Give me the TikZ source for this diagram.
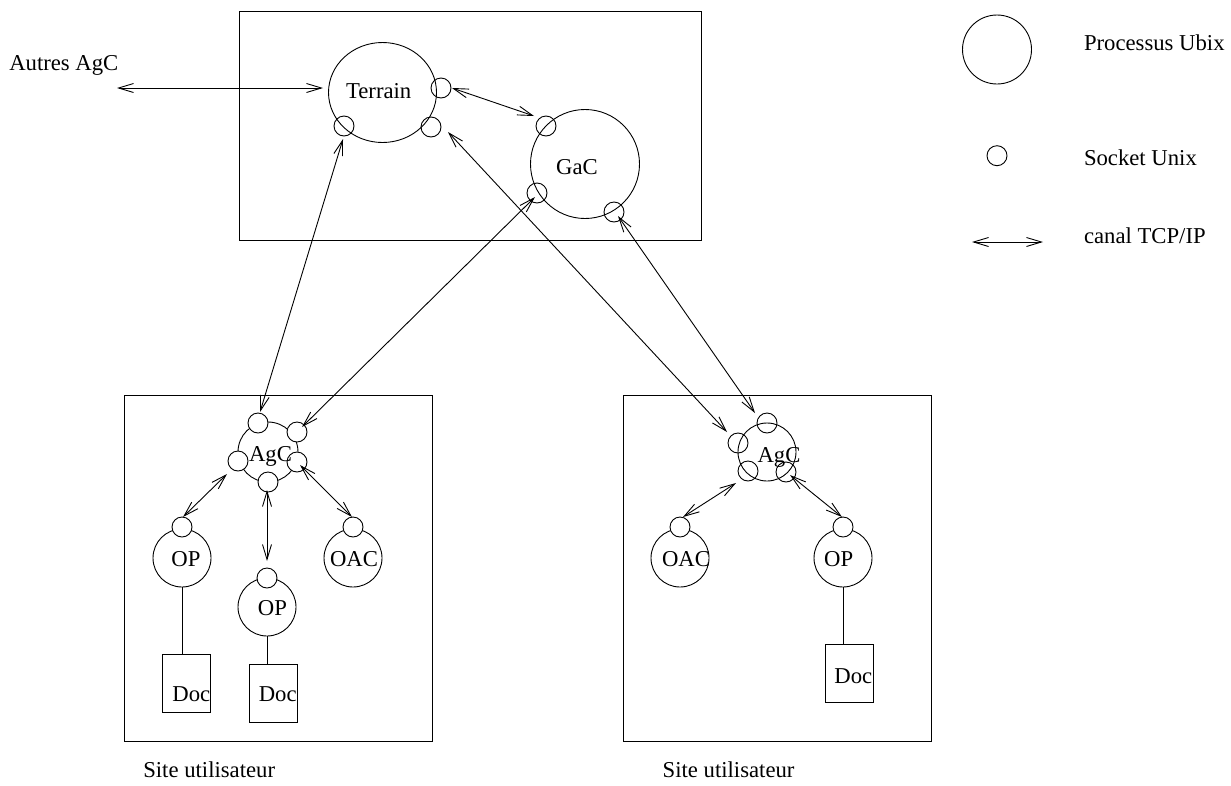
\documentclass[tikz,border=0pt]{standalone}
\usepackage{fontspec}
\setmainfont{Liberation Serif}
\usetikzlibrary{arrows.meta,shapes.geometric}
\begin{document}
\begin{tikzpicture}[x=1pt,y=-1pt,line width=0.9pt,
  every node/.style={inner sep=0pt,outer sep=0pt},
  lbl/.style={font=\fontsize{22.7}{27}\selectfont,anchor=base},
  lblw/.style={font=\fontsize{22.7}{27}\selectfont,anchor=base west},
  proc/.style={draw,circle,minimum size=58pt},
  sock/.style={draw,circle,minimum size=20pt},
  sockw/.style={draw,circle,minimum size=20pt,fill=white},
  docbox/.style={draw,rectangle,minimum width=48pt,minimum height=58pt},
  sitebox/.style={draw,rectangle,anchor=north west},
  tcp/.style={{Straight Barb[length=15pt,width=9pt]}-{Straight Barb[length=15pt,width=9pt]}}]
\useasboundingbox (0,0) rectangle (1231,785);

% ---- top box
\node[sitebox,minimum width=462pt,minimum height=229pt] (top) at (239,11) {};
\node[draw,ellipse,minimum width=108pt,minimum height=100pt] (terrain) at (382.5,92.5) {};
\node[lbl] (terrainT) at (378.7,98.3) {Terrain};
\node[draw,circle,minimum size=109pt] (gac) at (585,164) {};
\node[lbl] (gacT) at (577,174) {GaC};
\node[sock] (tsR) at (441,88) {};
\node[sock] (tsLL) at (344,126) {};
\node[sock] (tsLR) at (431,127) {};
\node[sock] (gsUL) at (546,126) {};
\node[sock] (gsLL) at (537,193) {};
\node[sock] (gsLR) at (614,212) {};

\node[lblw] (autres) at (9.3,70) {Autres AgC};

% ---- left site
\node[sitebox,minimum width=308pt,minimum height=346pt] (siteL) at (124,395) {};
\node[proc,minimum size=60pt] (agcL) at (268,452) {};
\node[sockw] (aLt) at (258,423) {};
\node[sockw] (aLur) at (297,432) {};
\node[sockw] (aLl) at (238,461) {};
\node[sockw] (aLr) at (297,462) {};
\node[sockw] (aLb) at (268,482) {};
\node[lbl] (agcLT) at (270.5,461.7) {AgC};

\node[proc] (opL) at (182,558) {};
\node[sockw] (opLs) at (182,527) {};
\node[lbl] (opLT) at (186,566.7) {OP};
\node[proc] (opM) at (267,607) {};
\node[sockw] (opMs) at (267,578) {};
\node[lbl] (opMT) at (272.5,615) {OP};
\node[proc] (oacL) at (353,558) {};
\node[sockw] (oacLs) at (353,527) {};
\node[lbl] (oacLT) at (354,566.7) {OAC};

\node[docbox] (docL) at (186,683) {};
\node[lbl] (docLT) at (191.3,701.7) {Doc};
\node[docbox] (docM) at (273,693) {};
\node[lbl] (docMT) at (277.7,701.7) {Doc};
\draw (opL.south) -- (opL.south |- docL.north);
\draw (opM.south) -- (opM.south |- docM.north);

\node[lblw] (siteLT) at (143.3,777.3) {Site utilisateur};

% ---- right site
\node[sitebox,minimum width=308pt,minimum height=346pt] (siteR) at (623,395) {};
\node[proc] (agcR) at (767,452) {};
\node[sock] (aRt) at (767,423) {};
\node[sock] (aRl) at (738,443) {};
\node[sock] (aRll) at (748,471) {};
\node[sock] (aRlr) at (786,472) {};
\node[lbl] (agcRT) at (779,462.7) {AgC};

\node[proc] (oacR) at (680,558) {};
\node[sockw] (oacRs) at (680,527) {};
\node[lbl] (oacRT) at (686,566.7) {OAC};
\node[proc] (opR) at (843,558) {};
\node[sockw] (opRs) at (843,527) {};
\node[lbl] (opRT) at (838.7,566.7) {OP};
\node[docbox] (docR) at (849,673) {};
\node[lbl] (docRT) at (853.3,683.3) {Doc};
\draw (opR.south) -- (opR.south |- docR.north);

\node[lblw] (siteRT) at (662.7,777.3) {Site utilisateur};

% ---- connector end points
\coordinate (autresE) at (117,88);
\coordinate (terrainW) at (323,88);
\coordinate (c1a) at (452,88);   \coordinate (c1b) at (534,116);
\coordinate (c2a) at (343,139);  \coordinate (c2b) at (260,412);
\coordinate (c3a) at (535,197);  \coordinate (c3b) at (302,427);
\coordinate (c4a) at (448,132);  \coordinate (c4b) at (727,432);
\coordinate (c5a) at (618,216);  \coordinate (c5b) at (755,413);
\coordinate (l1a) at (227,474);  \coordinate (l1b) at (183,517);
\coordinate (l2a) at (267,490);  \coordinate (l2b) at (267,561);
\coordinate (l3a) at (300,465);  \coordinate (l3b) at (352,517);
\coordinate (r1a) at (736,483);  \coordinate (r1b) at (683,517);
\coordinate (r2a) at (790,475);  \coordinate (r2b) at (842,517);

\draw[tcp] (autresE) -- (terrainW);
\draw[tcp] (c1a) -- (c1b);
\draw[tcp] (c2a) -- (c2b);
\draw[tcp] (c3a) -- (c3b);
\draw[tcp] (c4a) -- (c4b);
\draw[tcp] (c5a) -- (c5b);
\draw[tcp] (l1a) -- (l1b);
\draw[tcp] (l2a) -- (l2b);
\draw[tcp] (l3a) -- (l3b);
\draw[tcp] (r1a) -- (r1b);
\draw[tcp] (r2a) -- (r2b);

% ---- legend
\node[draw,circle,minimum size=69pt] (legP) at (997,49.5) {};
\node[lblw] (legPT) at (1084,50) {Processus Ubix};
\node[sock] (legS) at (997,155.7) {};
\node[lblw] (legST) at (1084,165) {Socket Unix};
\coordinate (legA1) at (972,242);
\coordinate (legA2) at (1043,242);
\draw[tcp] (legA1) -- (legA2);
\node[lblw] (legAT) at (1084,243) {canal TCP/IP};
\end{tikzpicture}
\end{document}
